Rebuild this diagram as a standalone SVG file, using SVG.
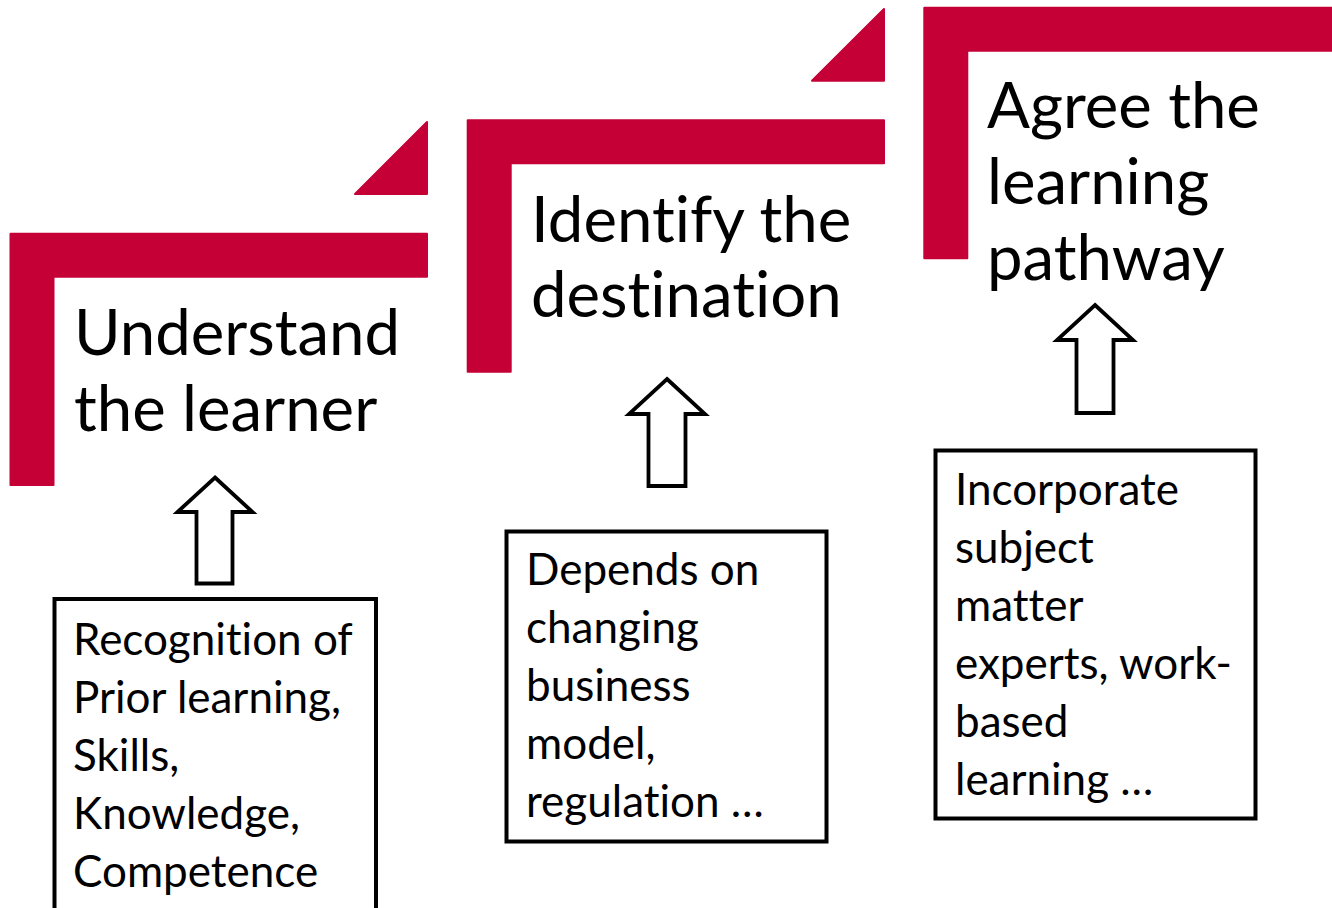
<svg xmlns="http://www.w3.org/2000/svg" width="1332" height="908" viewBox="0 0 1332 908">
  <style>
    .bracket { fill: #C40036; stroke: #C40036; stroke-width: 2; stroke-linejoin: round; }
    .heading { font-family: "Lato", "Liberation Sans", sans-serif; font-size: 63.5px; fill: #000; font-variant-ligatures: none; }
    .note { fill: #fff; stroke: #000; stroke-width: 4; }
    .note-text { font-family: "Lato", "Liberation Sans", sans-serif; font-size: 44px; fill: #000; font-variant-ligatures: none; }
    .arrow { fill: #fff; stroke: #000; stroke-width: 3.8; stroke-linejoin: miter; }
  </style>
  <rect width="1332" height="908" fill="#fff"/>

  <!-- Step 1 -->
  <g id="step-understand">
    <path class="bracket" d="M10.5,233.7 H427 V276.7 H53.5 V485 H10.5 Z"/>
    <path class="bracket" d="M355,194 L427,122 V194 Z"/>
    <text class="heading" x="74" y="355">Understand</text>
    <text class="heading" x="74" y="431">the learner</text>
  </g>

  <!-- Step 2 -->
  <g id="step-identify">
    <path class="bracket" d="M467.7,120.3 H884 V163.3 H510.7 V371.7 H467.7 Z"/>
    <path class="bracket" d="M812,80.7 L884,9 V80.7 Z"/>
    <text class="heading" x="531" y="242">Identify the</text>
    <text class="heading" x="531" y="317">destination</text>
  </g>

  <!-- Step 3 -->
  <g id="step-agree">
    <path class="bracket" d="M924.3,7.7 H1340 V50.7 H967.3 V258.3 H924.3 Z"/>
    <text class="heading" x="987" y="128">Agree the</text>
    <text class="heading" x="987" y="204">learning</text>
    <text class="heading" x="987" y="280">pathway</text>
  </g>

  <!-- Supporting notes -->
  <g id="note-learner">
    <rect class="note" x="54.5" y="599" width="321.5" height="330"/>
    <text class="note-text" x="73" y="655">Recognition of</text>
    <text class="note-text" x="73" y="713">Prior learning,</text>
    <text class="note-text" x="73" y="771">Skills,</text>
    <text class="note-text" x="73" y="829">Knowledge,</text>
    <text class="note-text" x="73" y="887">Competence</text>
  </g>

  <g id="note-destination">
    <rect class="note" x="506.5" y="531.5" width="320" height="310"/>
    <text class="note-text" x="526" y="585">Depends on</text>
    <text class="note-text" x="526" y="643">changing</text>
    <text class="note-text" x="526" y="701">business</text>
    <text class="note-text" x="526" y="759">model,</text>
    <text class="note-text" x="526" y="817">regulation …</text>
  </g>

  <g id="note-pathway">
    <rect class="note" x="935.5" y="450.5" width="320" height="368"/>
    <text class="note-text" x="955" y="505">Incorporate</text>
    <text class="note-text" x="955" y="563">subject</text>
    <text class="note-text" x="955" y="621">matter</text>
    <text class="note-text" x="955" y="679">experts, work-</text>
    <text class="note-text" x="955" y="737">based</text>
    <text class="note-text" x="955" y="795">learning …</text>
  </g>

  <!-- Block arrows from each note up to its step -->
  <g id="connectors">
    <path class="arrow" d="M215,477.5 L252.5,512 H232.5 V583.5 H196.5 V512 H177.5 Z"/>
    <path class="arrow" d="M667,379 L705,414 H685.5 V486 H648.5 V414 H629 Z"/>
    <path class="arrow" d="M1095,305 L1133,340 H1113.5 V413 H1076.5 V340 H1057 Z"/>
  </g>
</svg>
